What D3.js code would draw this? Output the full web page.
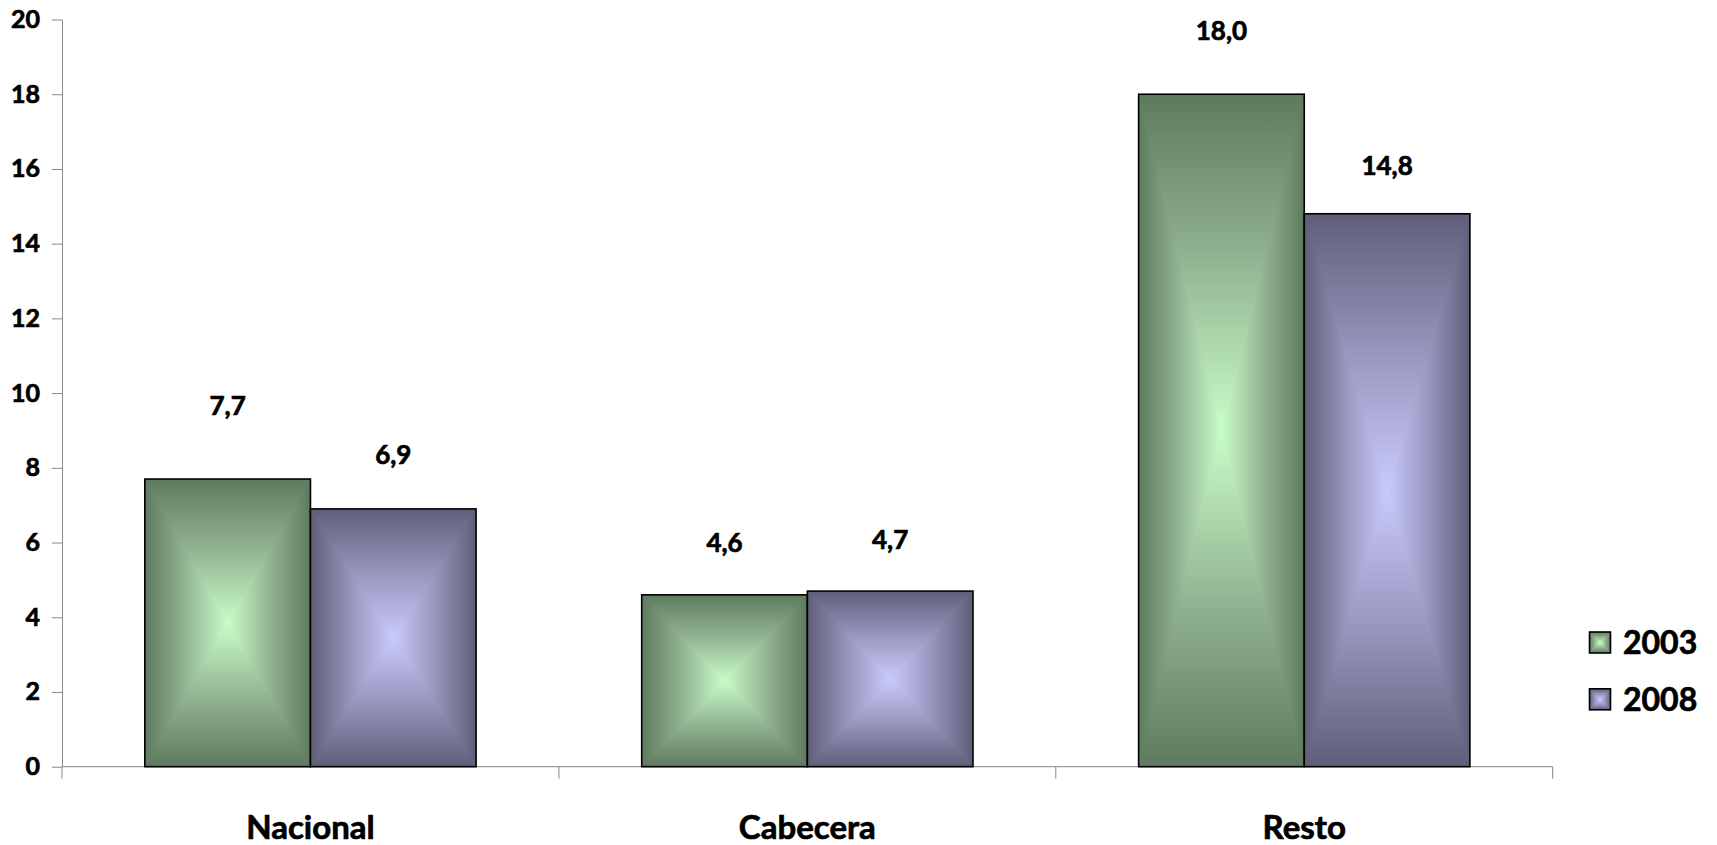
<!DOCTYPE html>
<html>
<head>
<meta charset="utf-8">
<script src="https://cdn.jsdelivr.net/npm/d3@7"></script>
<style>
  html, body { margin: 0; padding: 0; background: #ffffff; }
  svg { display: block; }
  text { font-family: Lato, "Open Sans", sans-serif; font-weight: 700; fill: #000; stroke: #000; stroke-width: 0.7px; }
</style>
</head>
<body>
<svg id="chart" width="1717" height="845"></svg>
<script>
// ---- data ----
const categories = ["Nacional", "Cabecera", "Resto"];
const seriesNames = ["2003", "2008"];
const values2003 = [7.7, 4.6, 18.0];
const values2008 = [6.9, 4.7, 14.8];
const yTicks = [0, 2, 4, 6, 8, 10, 12, 14, 16, 18, 20];

// label placement (pixels above bar top), as in the reference
const labelLift2003 = [73.5, 51.8, 63.5];
const labelLift2008 = [54, 51.1, 48.4];

// ---- styles ----
const seriesColors = {
  "2003": { dark: "#5e7a5e", mid: "#93b593", light: "#c8fdc8" },
  "2008": { dark: "#5f5e79", mid: "#9796bd", light: "#c9c9fd" }
};
const axisColor = "#878787";

const svg = d3.select("#chart");
const plotLeft = 62, plotRight = 1552.7, plotTop = 19.5, plotBottom = 766.7;

const x0 = d3.scaleBand().domain(categories).range([plotLeft, plotRight]).paddingInner(0).paddingOuter(0);
const x1 = d3.scaleBand().domain(seriesNames).range([0, x0.bandwidth()]).paddingInner(0).paddingOuter(0.5);
const y = d3.scaleLinear().domain([0, 20]).range([plotBottom, plotTop]);

const data = [];
categories.forEach((c, i) => {
  data.push({ cat: c, s: "2003", v: values2003[i], lift: labelLift2003[i] });
  data.push({ cat: c, s: "2008", v: values2008[i], lift: labelLift2008[i] });
});

// ---- gradients ----
const defs = svg.append("defs");
seriesNames.forEach(s => {
  const col = seriesColors[s];
  const gv = defs.append("linearGradient").attr("id", "gv" + s)
    .attr("x1", 0).attr("y1", 0).attr("x2", 0).attr("y2", 1);
  const gh = defs.append("linearGradient").attr("id", "gh" + s)
    .attr("x1", 0).attr("y1", 0).attr("x2", 1).attr("y2", 0);
  [gv, gh].forEach(g => {
    g.append("stop").attr("offset", 0).attr("stop-color", col.dark);
    g.append("stop").attr("offset", 0.25).attr("stop-color", col.mid);
    g.append("stop").attr("offset", 0.5).attr("stop-color", col.light);
    g.append("stop").attr("offset", 0.75).attr("stop-color", col.mid);
    g.append("stop").attr("offset", 1).attr("stop-color", col.dark);
  });
});

let clipCount = 0;
// draw a rectangle with a "from center" rectangular gradient
function gradRect(g, x, yy, w, h, s, strokeW) {
  const cx = x + w / 2, cy = yy + h / 2;
  g.append("rect").attr("x", x).attr("y", yy).attr("width", w).attr("height", h)
    .attr("fill", `url(#gv${s})`);
  const id = "clip" + (clipCount++);
  const cp = defs.append("clipPath").attr("id", id);
  cp.append("path").attr("d",
    `M${x},${yy}L${cx},${cy}L${x},${yy + h}Z M${x + w},${yy}L${cx},${cy}L${x + w},${yy + h}Z`);
  g.append("rect").attr("x", x).attr("y", yy).attr("width", w).attr("height", h)
    .attr("fill", `url(#gh${s})`).attr("clip-path", `url(#${id})`);
  g.append("rect").attr("x", x).attr("y", yy).attr("width", w).attr("height", h)
    .attr("fill", "none").attr("stroke", "#000").attr("stroke-width", strokeW);
}

// ---- axes ----
const yAxis = d3.axisLeft(y).tickValues(yTicks).tickSize(10).tickSizeOuter(0).tickPadding(12)
  .tickFormat(d3.format("d"));
const gy = svg.append("g").attr("transform", `translate(${plotLeft},0)`).call(yAxis);
gy.selectAll("path.domain").attr("stroke", axisColor).attr("stroke-width", 1);
gy.selectAll(".tick line").attr("stroke", axisColor);
gy.selectAll(".tick text").attr("font-size", 25).attr("font-family", "Lato, sans-serif")
  .attr("font-weight", 700).attr("fill", "#000");

// category boundary ticks and baseline
const boundaries = categories.map(c => x0(c)).concat([x0(categories[categories.length - 1]) + x0.bandwidth()]);
svg.append("line").attr("x1", plotLeft).attr("x2", plotRight).attr("y1", y(0)).attr("y2", y(0))
  .attr("stroke", axisColor).attr("stroke-width", 1);
svg.selectAll("line.btick").data(boundaries).enter().append("line").attr("class", "btick")
  .attr("x1", d => d).attr("x2", d => d).attr("y1", y(0)).attr("y2", y(0) + 12)
  .attr("stroke", axisColor).attr("stroke-width", 1);

const xAxis = d3.axisBottom(x0).tickSize(0).tickPadding(0);
const gx = svg.append("g").attr("transform", `translate(0,${y(0)})`).call(xAxis);
gx.select("path.domain").remove();
gx.selectAll(".tick text").attr("font-size", 33).attr("font-family", "Lato, sans-serif")
  .attr("font-weight", 700).attr("fill", "#000").attr("dy", null).attr("y", 72);

// ---- bars ----
const gBars = svg.append("g");
data.forEach(d => {
  const bx = x0(d.cat) + x1(d.s);
  const by = y(d.v);
  gradRect(gBars, bx, by, x1.bandwidth(), y(0) - by, d.s, 1.6);
});

// ---- value labels ----
const fmt = v => d3.format(".1f")(v).replace(".", ",");
svg.selectAll("text.vlabel").data(data).enter().append("text").attr("class", "vlabel")
  .attr("x", d => x0(d.cat) + x1(d.s) + x1.bandwidth() / 2)
  .attr("y", d => y(d.v) - d.lift)
  .attr("dy", "0.36em")
  .attr("text-anchor", "middle")
  .attr("font-size", 26)
  .text(d => fmt(d.v));

// ---- legend ----
const legendY = d3.scalePoint().domain(seriesNames).range([642.5, 699.3]);
const lg = svg.append("g");
seriesNames.forEach(s => {
  const cy = legendY(s);
  gradRect(lg, 1589.5, cy - 10.5, 21, 21, s, 1.6);
  lg.append("text").attr("x", 1623).attr("y", cy).attr("dy", "0.36em")
    .attr("font-size", 32).text(s);
});
</script>
</body>
</html>
